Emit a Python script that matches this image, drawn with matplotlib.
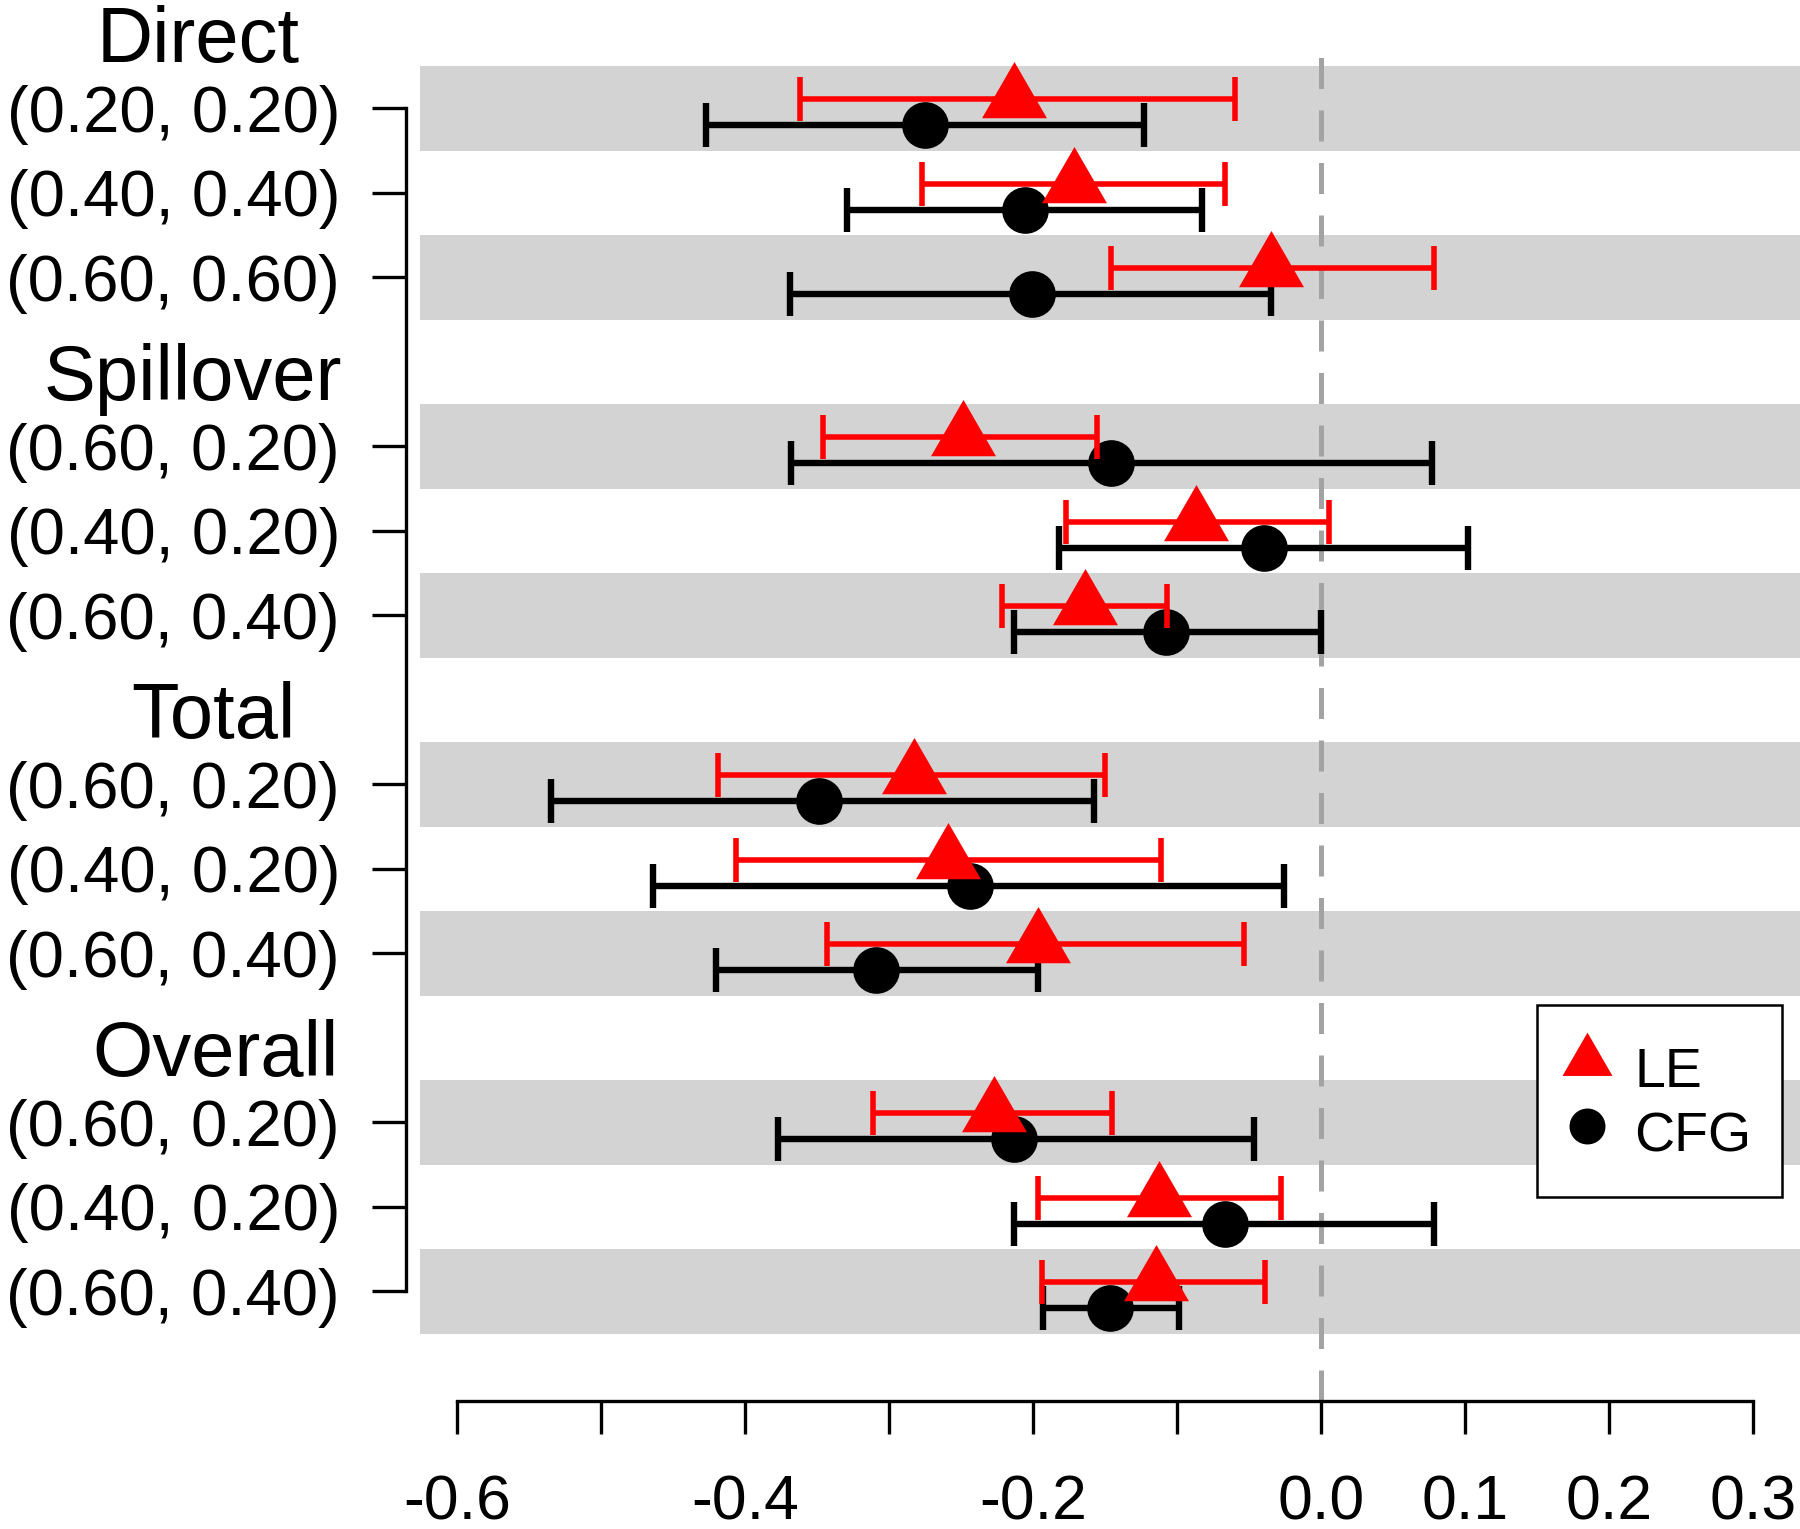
import numpy as np
import matplotlib.pyplot as plt
from matplotlib.transforms import blended_transform_factory

plt.rcParams['font.family'] = ['Liberation Sans', 'DejaVu Sans']

# ---- data ----
groups = ['Direct', 'Spillover', 'Total', 'Overall']
row_labels = ['(0.20, 0.20)', '(0.40, 0.40)', '(0.60, 0.60)',
              '(0.60, 0.20)', '(0.40, 0.20)', '(0.60, 0.40)',
              '(0.60, 0.20)', '(0.40, 0.20)', '(0.60, 0.40)',
              '(0.60, 0.20)', '(0.40, 0.20)', '(0.60, 0.40)']

le_est = np.array([-0.213, -0.172, -0.035, -0.249, -0.087, -0.164,
                   -0.283, -0.259, -0.197, -0.227, -0.113, -0.115])
le_lo = np.array([-0.362, -0.277, -0.146, -0.346, -0.177, -0.222,
                  -0.419, -0.406, -0.343, -0.311, -0.197, -0.194])
le_hi = np.array([-0.060, -0.067, 0.078, -0.156, 0.005, -0.107,
                  -0.150, -0.111, -0.054, -0.145, -0.028, -0.039])

cfg_est = np.array([-0.275, -0.206, -0.201, -0.146, -0.040, -0.108,
                    -0.349, -0.244, -0.309, -0.213, -0.067, -0.147])
cfg_lo = np.array([-0.427, -0.329, -0.369, -0.368, -0.182, -0.213,
                   -0.535, -0.464, -0.420, -0.377, -0.213, -0.193])
cfg_hi = np.array([-0.123, -0.083, -0.035, 0.077, 0.102, 0.000,
                   -0.158, -0.026, -0.197, -0.047, 0.078, -0.099])

x_ticks = [-0.6, -0.5, -0.4, -0.3, -0.2, -0.1, 0.0, 0.1, 0.2, 0.3]
x_tick_labels = ['-0.6', '', '-0.4', '', '-0.2', '', '0.0', '0.1', '0.2', '0.3']

# ---- layout ----
W, H = 1800, 1529
fig = plt.figure(figsize=(W / 100, H / 100), dpi=100)
ax = fig.add_axes([406 / W, 1 - 1401 / H, 1 - 406 / W, (1401 - 45) / H])

# one slot per row, header slots between groups
n = len(row_labels)
slot = np.array([4 * (i // 3) + i % 3 + 1 for i in range(n)])
head_slot = np.array([4 * g for g in range(len(groups))])

ax.set_xlim(-0.6354, 0.3323)
ax.set_ylim(16.296, 0.249)

# shaded bands on first and third row of each group
band = slot[np.arange(n) % 3 != 1]
ax.barh(band, width=1.0, left=-0.6255, height=1.0, color='#D3D3D3', zorder=0)

ax.axvline(0.0, color='#A3A3A3', lw=3.6, dashes=(6.2, 4.3), zorder=1)

off_le, off_cfg = -0.107, 0.2
tri = [(0, 1), (-0.866, -0.5), (0.866, -0.5)]

ax.errorbar(cfg_est, slot + off_cfg, xerr=[cfg_est - cfg_lo, cfg_hi - cfg_est],
            fmt='none', ecolor='black', elinewidth=4.6, capsize=15.8,
            capthick=4.6, zorder=2)
h_cfg, = ax.plot(cfg_est, slot + off_cfg, 'o', color='black', ms=33.6,
                 mew=0, zorder=3, label='CFG')
ax.errorbar(le_est, slot + off_le, xerr=[le_est - le_lo, le_hi - le_est],
            fmt='none', ecolor='red', elinewidth=4.0, capsize=15.8,
            capthick=4.0, zorder=4)
h_le, = ax.plot(le_est, slot + off_le, linestyle='none', marker=tri,
                color='red', ms=54, mew=0, zorder=5, label='LE')

# axes
for s in ['top', 'right']:
    ax.spines[s].set_visible(False)
ax.spines['left'].set_bounds(slot[0], slot[-1])
ax.spines['bottom'].set_bounds(x_ticks[0], x_ticks[-1])
ax.spines['left'].set_linewidth(2.4)
ax.spines['bottom'].set_linewidth(2.4)

ax.set_yticks(slot)
ax.set_yticklabels(row_labels)
ax.tick_params(axis='y', length=24.5, width=2.4, pad=23, labelsize=47)
ax.set_xticks(x_ticks)
ax.set_xticklabels(x_tick_labels)
ax.tick_params(axis='x', length=24, width=2.4, pad=28, labelsize=45)

# group headers
head_x = [198.5, 192.5, 213, 216]
trans = blended_transform_factory(fig.transFigure, ax.transData)
for g, name in enumerate(groups):
    ax.text(head_x[g] / W, head_slot[g] + 0.455, name, transform=trans,
            ha='center', va='baseline', fontsize=56, clip_on=False)

leg = ax.legend([h_le, h_cfg], ['LE', 'CFG'], loc='upper left',
                bbox_to_anchor=(1537 / W, 1 - 1005 / H),
                bbox_transform=fig.transFigure, fontsize=40, markerscale=0.77,
                frameon=True, fancybox=False, framealpha=1, borderaxespad=0,
                borderpad=0.55, handlelength=0.7, handletextpad=0.5,
                handleheight=1.45, labelspacing=-0.02)
leg.get_frame().set_edgecolor('black')
leg.get_frame().set_linewidth(1.8)

fig.savefig('out.png', dpi=100)
